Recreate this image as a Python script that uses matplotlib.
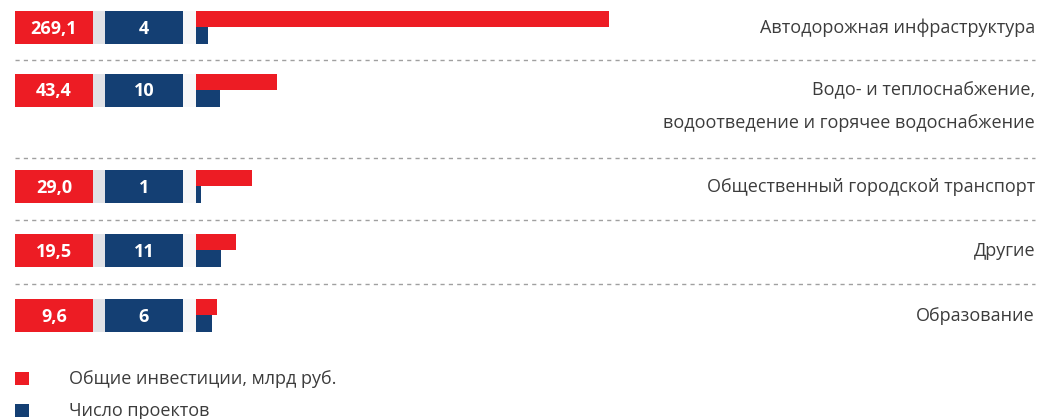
import matplotlib
matplotlib.use("Agg")
import matplotlib.pyplot as plt
from matplotlib.patches import Rectangle

# ---- data ----
categories = [
    "Автодорожная инфраструктура",
    "Водо- и теплоснабжение,\nводоотведение и горячее водоснабжение",
    "Общественный городской транспорт",
    "Другие",
    "Образование",
]
investments = [269.1, 43.4, 29.0, 19.5, 9.6]   # млрд руб.
projects = [4, 10, 1, 11, 6]
legend_labels = ["Общие инвестиции, млрд руб.", "Число проектов"]

# ---- style / layout ----
W, H = 1039, 419
DPI = 100
RED = "#ED1C24"
BLUE = "#143F73"
GRAY_STRIP = "#E1E2E6"
LIGHT_STRIP = "#F7F7F8"
TEXT = "#3C3C3C"
FONT = "Open Sans"
FS = 13

row_tops = [11, 74, 170, 234, 299]
box_h = 33
line_gap = 32
sep_ys = [60, 158, 220, 284]
bar_x0 = 196

fig = plt.figure(figsize=(W / DPI, H / DPI), dpi=DPI)
fig.patch.set_facecolor("white")

# overlay axes in pixel coordinates for layout decorations
ov = fig.add_axes([0, 0, 1, 1])
ov.set_xlim(0, W)
ov.set_ylim(H, 0)
ov.axis("off")

for i, (cat, inv, pr) in enumerate(zip(categories, investments, projects)):
    top = row_tops[i]
    cy = top + box_h / 2
    ov.add_patch(Rectangle((15, top), 78, box_h, color=RED, lw=0))
    ov.add_patch(Rectangle((93, top), 12, box_h, color=GRAY_STRIP, lw=0))
    ov.add_patch(Rectangle((105, top), 78, box_h, color=BLUE, lw=0))
    ov.add_patch(Rectangle((183, top), 13, box_h, color=LIGHT_STRIP, lw=0))
    ov.text(54, cy + 1, f"{inv:.1f}".replace(".", ","), color="white",
            fontsize=FS, fontweight="bold", family=FONT, ha="center", va="center")
    ov.text(144, cy + 1, f"{pr}", color="white",
            fontsize=FS, fontweight="bold", family=FONT, ha="center", va="center")
    for j, line in enumerate(cat.split("\n")):
        ov.text(1035, cy + j * line_gap, line, color=TEXT, fontsize=FS,
                family=FONT, ha="right", va="center")

for y in sep_ys:
    ov.plot([15, 1035], [y, y], color="#A0A0A0", lw=1.0,
            linestyle=(0, (3, 3)))

# legend
ov.add_patch(Rectangle((15, 372), 14, 13, color=RED, lw=0))
ov.add_patch(Rectangle((15, 404), 14, 13, color=BLUE, lw=0))
ov.text(69, 379, legend_labels[0], color=TEXT, fontsize=FS, family=FONT,
        ha="left", va="center")
ov.text(69, 411, legend_labels[1], color=TEXT, fontsize=FS, family=FONT,
        ha="left", va="center")

# bar axes (value scales)
ax_w_px = W - bar_x0
pr_red, k_red = 0.894, 2.78
pr_blue, k_blue = 0.72, 4.5

ax_r = fig.add_axes([bar_x0 / W, 0, ax_w_px / W, 1])
ax_r.set_xscale("function", functions=(lambda v: v ** pr_red,
                                        lambda v: v ** (1 / pr_red)))
ax_r.set_xlim(0, (ax_w_px / k_red) ** (1 / pr_red))
ax_r.set_ylim(H, 0)
ax_r.axis("off")
ax_r.patch.set_alpha(0)
ax_r.barh([t + 8 for t in row_tops], investments, height=16,
          left=0, color=RED, linewidth=0)

ax_b = fig.add_axes([bar_x0 / W, 0, ax_w_px / W, 1])
ax_b.set_xscale("function", functions=(lambda v: v ** pr_blue,
                                        lambda v: v ** (1 / pr_blue)))
ax_b.set_xlim(0, (ax_w_px / k_blue) ** (1 / pr_blue))
ax_b.set_ylim(H, 0)
ax_b.axis("off")
ax_b.patch.set_alpha(0)
ax_b.barh([t + 16 + 8.5 for t in row_tops], projects, height=17,
          left=0, color=BLUE, linewidth=0)

fig.savefig("out.png", dpi=DPI, facecolor="white")
